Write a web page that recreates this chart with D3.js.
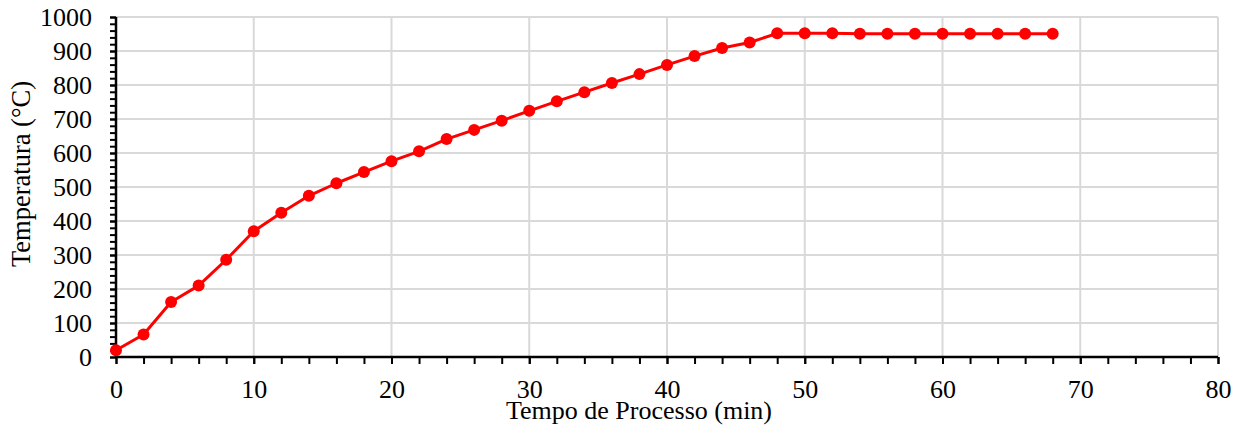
<!DOCTYPE html>
<html>
<head>
<meta charset="utf-8">
<script src="https://cdn.jsdelivr.net/npm/d3@7"></script>
<style>
  html, body { margin: 0; padding: 0; background: #fff; }
  svg { display: block; }
  svg text { font-family: "Liberation Serif", "Times New Roman", serif !important; fill: #000; }
</style>
</head>
<body>
<svg id="chart" width="1241" height="429" font-family="Liberation Serif"></svg>
<script>
const tempo = [0,2,4,6,8,10,12,14,16,18,20,22,24,26,28,30,32,34,36,38,40,42,44,46,48,50,52,54,56,58,60,62,64,66,68];
const temperatura = [20,66,162,210,286,370,424,474,511,544,576,605,641,668,695,724,752,779,806,832,859,885,909,925,952,952,952,951,951,951,951,951,951,951,951];
const xTicks = [0,10,20,30,40,50,60,70,80];
const yTicks = [0,100,200,300,400,500,600,700,800,900,1000];
const xTitle = "Tempo de Processo (min)";
const yTitle = "Temperatura (°C)";

const FS = 26;
const FONT = "Liberation Serif, Times New Roman, serif";
const svg = d3.select("#chart");
const m = {left: 116, right: 1218, top: 17, bottom: 357};

const x = d3.scaleLinear().domain([0, 80]).range([m.left, m.right]);
const y = d3.scaleLinear().domain([0, 1000]).range([m.bottom, m.top]);

// gridlines
svg.append("g").selectAll("line").data(yTicks.filter(d => d > 0)).join("line")
  .attr("x1", m.left).attr("x2", m.right)
  .attr("y1", d => y(d)).attr("y2", d => y(d))
  .attr("stroke", "#d9d9d9").attr("stroke-width", 2);
svg.append("g").selectAll("line").data(xTicks.filter(d => d > 0)).join("line")
  .attr("y1", m.top).attr("y2", m.bottom)
  .attr("x1", d => x(d)).attr("x2", d => x(d))
  .attr("stroke", "#d9d9d9").attr("stroke-width", 2);

// x axis minor ticks
const gxm = svg.append("g").attr("transform", `translate(0,${m.bottom})`)
  .call(d3.axisBottom(x).tickValues(d3.range(0, 81, 2)).tickSize(7).tickFormat(""));
gxm.select(".domain").remove();
gxm.selectAll("line").attr("stroke", "#000").attr("stroke-width", 2);

const gx = svg.append("g").attr("transform", `translate(0,${m.bottom})`)
  .call(d3.axisBottom(x).tickValues(xTicks).tickSize(7).tickPadding(16).tickFormat(d3.format("d")))
  .attr("font-family", FONT).attr("font-size", FS);
gx.select(".domain").attr("stroke", "#000").attr("stroke-width", 2.5).attr("d", `M${m.left},0H${m.right}`);
gx.selectAll("line").attr("stroke", "#000").attr("stroke-width", 2);
gx.selectAll("text").style("font-size", FS + "px").style("font-family", FONT).attr("fill", "#000");

// y axis minor ticks
const gym = svg.append("g").attr("transform", `translate(${m.left},0)`)
  .call(d3.axisLeft(y).tickValues(d3.range(0, 1001, 20)).tickSize(6).tickFormat(""));
gym.select(".domain").remove();
gym.selectAll("line").attr("stroke", "#000").attr("stroke-width", 2);

const gy = svg.append("g").attr("transform", `translate(${m.left},0)`)
  .call(d3.axisLeft(y).tickValues(yTicks).tickSize(6).tickPadding(18).tickFormat(d3.format("d")))
  .attr("font-family", FONT).attr("font-size", FS);
gy.select(".domain").attr("stroke", "#000").attr("stroke-width", 2.5).attr("d", `M0,${m.bottom}V${m.top}`);
gy.selectAll("line").attr("stroke", "#000").attr("stroke-width", 2);
gy.selectAll("text").style("font-size", FS + "px").style("font-family", FONT).attr("fill", "#000");

// line
const data = tempo.map((t, i) => ({t, v: temperatura[i]}));
svg.append("path").datum(data)
  .attr("fill", "none").attr("stroke", "#ff0000").attr("stroke-width", 3)
  .attr("stroke-linejoin", "round")
  .attr("d", d3.line().x(d => x(d.t)).y(d => y(d.v)));
svg.append("g").selectAll("circle").data(data).join("circle")
  .attr("cx", d => x(d.t)).attr("cy", d => y(d.v)).attr("r", 6)
  .attr("fill", "#ff0000");

// titles
svg.append("text").attr("x", 639).attr("y", 419)
  .attr("text-anchor", "middle").style("font-size", FS + "px").style("font-family", FONT).text(xTitle);
svg.append("text").attr("transform", `translate(30,174) rotate(-90)`)
  .attr("text-anchor", "middle").style("font-size", "26.5px").style("font-family", FONT).text(yTitle);
</script>
</body>
</html>
